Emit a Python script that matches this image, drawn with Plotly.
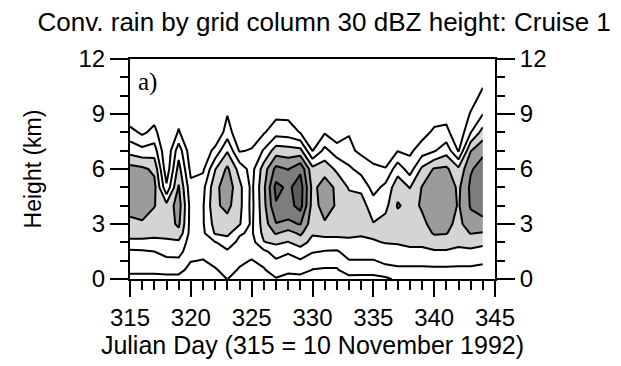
import plotly.graph_objects as go

# Julian days (columns) and heights (km, rows)
days = list(range(315, 345))
heights = [0, 0.5, 1, 1.5, 2, 2.5, 3, 4, 5, 6, 7, 8, 9, 10, 11]

# Vertical profiles (value at each height) read per day from the contour picture
p315 = [0.6, 1.3, 1.5, 1.85, 2.6, 3.6, 3.8, 4.3, 4.6, 4.4, 2.6, 1.4, 0.1, 0, 0]
p316 = [0.6, 1.3, 1.5, 1.9, 2.6, 3.6, 3.9, 4.4, 4.7, 4.2, 2.3, 0.8, 0.1, 0, 0]
p317 = [0.6, 1.3, 1.6, 2.0, 2.8, 3.2, 3.5, 4.05, 4.3, 3.8, 2.47, 1.3, 0.55, 0, 0]
p318 = [0.6, 1.4, 1.8, 2.3, 2.8, 3.3, 3.5, 3.3, 1.2, 0.3, 0.1, 0, 0, 0, 0]
p319 = [0.6, 1.4, 1.8, 2.4, 2.8, 3.7, 4.2, 4.5, 4.1, 3.4, 2.6, 1.1, 0.6, 0, 0]
p320 = [0.3, 0.6, 1.05, 1.3, 1.5, 1.6, 1.6, 1.6, 1.3, 0.7, 0.3, 0.1, 0, 0, 0]
p321 = [0.3, 0.6, 0.95, 1.3, 1.6, 1.8, 1.9, 1.9, 1.7, 0.8, 0.3, 0.1, 0, 0, 0]
p322 = [0.5, 0.9, 1.3, 1.6, 1.95, 3.1, 3.4, 3.8, 3.7, 2.95, 1.3, 0, 0, 0, 0]
p323 = [1.02, 1.4, 1.7, 1.9, 2.4, 3.3, 3.6, 4.3, 4.6, 4.2, 2.9, 1.5, 0.95, 0.2, 0]
p324 = [0.6, 0.9, 1.2, 1.5, 1.8, 2.1, 3.1, 3.3, 3.3, 2.6, 0.9, 0.2, 0, 0, 0]
p325 = [0.5, 0.7, 0.95, 1.3, 1.6, 1.85, 1.8, 1.7, 1.75, 1.6, 1.1, 0.3, 0, 0, 0]
p326 = [0.6, 0.9, 1.3, 1.8, 2.95, 3.3, 3.5, 3.7, 3.8, 3.5, 2.1, 0.9, 0.2, 0, 0]
p327 = [0.9, 1.6, 1.9, 2.4, 3.2, 4.1, 4.95, 5.9, 6.3, 5.3, 3.5, 1.6, 0.74, 0, 0]
p328 = [0.7, 1.2, 1.7, 2.1, 2.95, 3.6, 4.8, 5.6, 5.8, 4.95, 3.4, 1.5, 0.74, 0, 0]
p329 = [0.5, 1.5, 1.9, 2.6, 3.4, 4.2, 5.05, 6.4, 6.5, 5.8, 3.3, 0.95, 0.3, 0, 0]
p330 = [0.7, 0.98, 1.3, 2.1, 2.7, 3.1, 3.4, 3.6, 3.7, 3.3, 0.95, 0.3, 0, 0, 0]
p331 = [0.6, 0.9, 1.4, 1.95, 2.6, 3.3, 3.9, 4.4, 4.5, 3.6, 2.3, 0.9, 0.2, 0, 0]
p332 = [0.6, 0.9, 1.4, 1.9, 2.6, 3.3, 3.6, 3.9, 3.8, 2.8, 1.5, 0.3, 0, 0, 0]
p333 = [0.6, 1.6, 1.95, 2.4, 2.9, 3.1, 3.3, 3.5, 2.9, 2.2, 1.2, 0.95, 0.2, 0, 0]
p334 = [0.6, 1.5, 1.95, 2.5, 2.8, 3.1, 3.3, 3.4, 2.8, 1.6, 0.8, 0.2, 0, 0, 0]
p335 = [0.6, 1.5, 1.95, 2.4, 2.9, 3.2, 3.05, 2.5, 1.6, 1.2, 0.5, 0.1, 0, 0, 0]
p336 = [0.8, 1.7, 2.2, 2.6, 3.05, 3.3, 3.4, 2.7, 2.3, 1.05, 0.4, 0, 0, 0, 0]
p337 = [1.2, 1.8, 2.3, 2.6, 3.1, 3.3, 3.5, 4.1, 3.6, 2.6, 0.95, 0.2, 0, 0, 0]
p338 = [1.2, 1.8, 2.3, 2.8, 3.2, 3.4, 3.6, 3.7, 2.95, 1.5, 0.8, 0.2, 0, 0, 0]
p339 = [1.2, 1.8, 2.3, 2.8, 3.2, 3.5, 3.8, 4.1, 4.05, 3.2, 1.5, 0.6, 0, 0, 0]
p340 = [1.2, 1.8, 2.4, 2.9, 3.5, 4.1, 4.3, 4.6, 4.6, 4.1, 1.9, 1.2, 0.5, 0, 0]
p341 = [1.2, 1.8, 2.4, 2.9, 3.5, 4.05, 4.3, 4.7, 4.7, 4.2, 2.6, 1.3, 0.6, 0, 0]
p342 = [1.2, 1.8, 2.3, 2.8, 3.2, 3.5, 3.7, 3.9, 3.8, 3.2, 0.9, 0.2, 0, 0, 0]
p343 = [1.2, 1.8, 2.3, 2.8, 3.4, 4.05, 4.6, 5.1, 5.2, 4.9, 3.95, 1.95, 1.1, 0.4, 0]
p344 = [1.1, 1.7, 2.2, 2.7, 3.2, 3.9, 4.8, 5.3, 5.6, 5.4, 4.8, 3.4, 1.98, 1.3, 0.6]

profiles = [p315, p316, p317, p318, p319, p320, p321, p322, p323, p324,
            p325, p326, p327, p328, p329, p330, p331, p332, p333, p334,
            p335, p336, p337, p338, p339, p340, p341, p342, p343, p344]

x_ticks = [315, 320, 325, 330, 335, 340, 345]
y_ticks = [0, 3, 6, 9, 12]

# rows = heights, columns = days
z = [list(row) for row in zip(*profiles)]

W, L, D, D2, D3 = "#ffffff", "#d4d4d4", "#9b9b9b", "#7d7d7d", "#5c5c5c"
cscale = [[0, W], [0.375, W], [0.375, L], [0.54, L], [0.54, D],
          [0.71, D], [0.71, D2], [0.875, D2], [0.875, D3], [1, D3]]

FONT = "Liberation Sans, Arial, Helvetica, sans-serif"

fig = go.Figure()
fig.add_trace(go.Contour(
    x=days, y=heights, z=z,
    contours=dict(start=1, end=6, size=1, coloring="fill", showlines=True),
    line=dict(color="black", width=2, smoothing=0),
    colorscale=cscale, showscale=False, hoverinfo="skip",
))
# empty trace to activate right-hand axis
fig.add_trace(go.Scatter(x=[], y=[], yaxis="y2", showlegend=False, hoverinfo="skip"))

axis_common = dict(
    showgrid=False, zeroline=False, showline=True, linecolor="black", linewidth=2,
    ticks="outside", tickcolor="black", tickwidth=2,
    tickfont=dict(family=FONT, size=24, color="black"),
)

fig.update_layout(
    width=621, height=366,
    margin=dict(l=130, r=126, t=59, b=85),
    paper_bgcolor="white", plot_bgcolor="white",
    showlegend=False,
    title=dict(text="Conv. rain by grid column 30 dBZ height: Cruise 1",
               x=0.522, xanchor="center", y=1 - 22 / 366, yanchor="middle",
               font=dict(family=FONT, size=26, color="black")),
    xaxis=dict(range=[315, 345], tickvals=x_ticks, ticklen=16, mirror=True,
               minor=dict(dtick=1, tick0=315, ticks="outside", ticklen=9, tickwidth=1.5, tickcolor="black"),
               title=dict(text="Julian Day (315 = 10 November 1992)", standoff=6,
                          font=dict(family=FONT, size=25, color="black")),
               **axis_common),
    yaxis=dict(range=[0, 12], tickvals=y_ticks, ticklen=18,
               minor=dict(dtick=1, tick0=0, ticks="outside", ticklen=8, tickwidth=1.5, tickcolor="black"),
               title=dict(text="Height (km)", standoff=30,
                          font=dict(family=FONT, size=23, color="black")),
               **axis_common),
    yaxis2=dict(range=[0, 12], tickvals=y_ticks, ticklen=18, overlaying="y", side="right", anchor="x",
                minor=dict(dtick=1, tick0=0, ticks="outside", ticklen=8, tickwidth=1.5, tickcolor="black"),
                **axis_common),
    annotations=[dict(text="a)", xref="paper", yref="paper", x=0.016, y=0.895,
                      xanchor="left", yanchor="middle", showarrow=False,
                      font=dict(family="Liberation Serif, Times New Roman, serif", size=25, color="black"))],
)

fig.write_html("out.html")
